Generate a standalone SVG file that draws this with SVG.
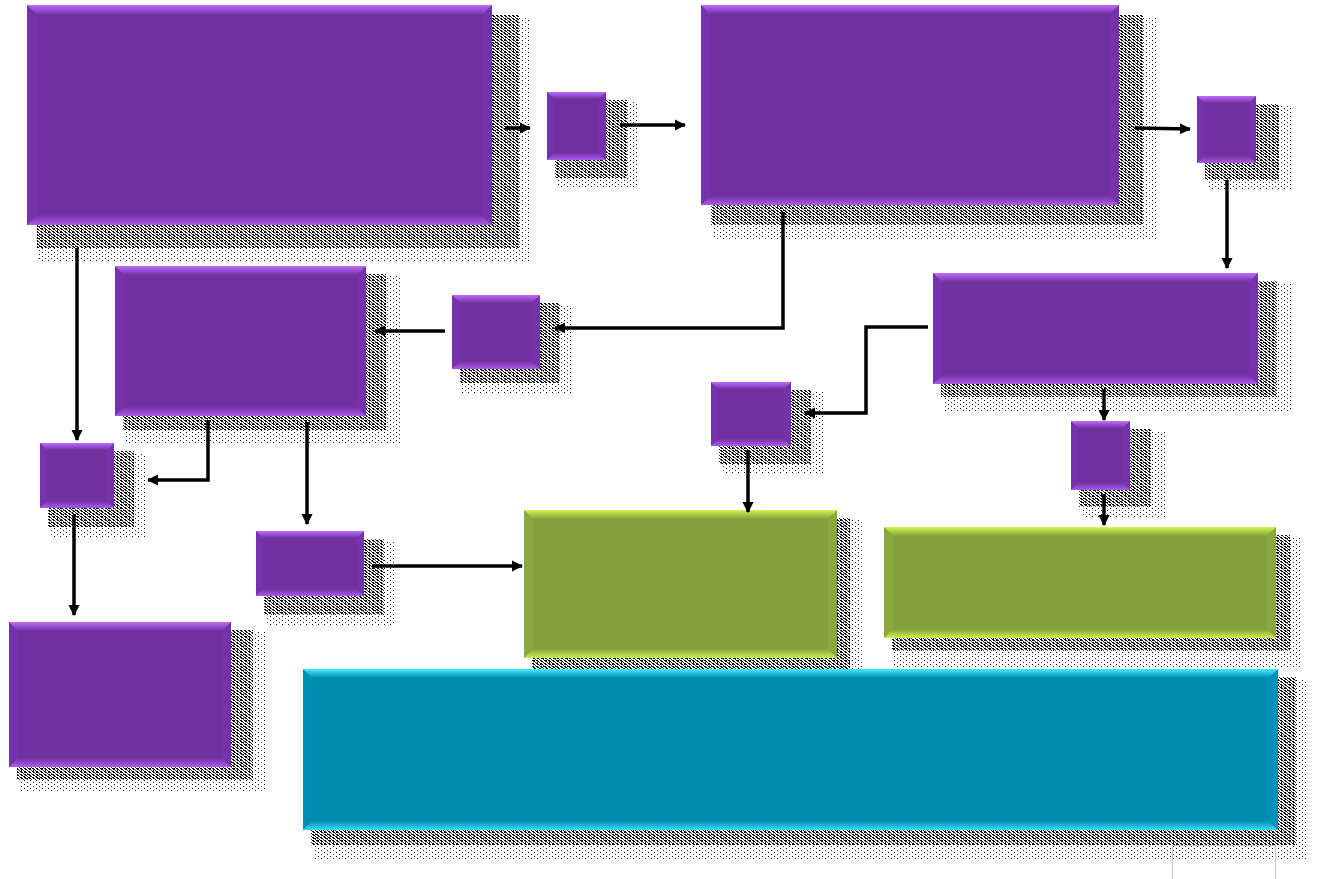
<svg xmlns="http://www.w3.org/2000/svg" width="1320" height="879" viewBox="0 0 1320 879">
<style>
.pm{fill:#7030A0}.ps{fill:#7632AA}
.gm{fill:#84A03C}.gs{fill:#8AA83E}
.tm{fill:#008BB0}.ts{fill:#0090B6}
.sd{fill:url(#dd)}.ss{fill:url(#ds)}
.c{fill:none;stroke:#000;stroke-width:3.5;marker-end:url(#ah)}
</style>
<defs>
<pattern id="dd" width="4" height="3" patternUnits="userSpaceOnUse"><rect width="2" height="1" fill="#000"/><rect x="1" y="1" width="2" height="1" fill="#111"/><rect x="3" y="2" width="1" height="1" fill="#333"/></pattern>
<pattern id="ds" width="6" height="4" patternUnits="userSpaceOnUse"><rect width="1" height="1" fill="#000"/><rect x="3" y="2" width="1" height="1" fill="#222"/></pattern>
<linearGradient id="pt" x1="0" y1="0" x2="0" y2="1"><stop offset="0" stop-color="#BC6CFA"/><stop offset="1" stop-color="#7432A6"/></linearGradient>
<linearGradient id="pb" x1="0" y1="0" x2="0" y2="1"><stop offset="0" stop-color="#7432A6"/><stop offset="1" stop-color="#AA5AEA"/></linearGradient>
<linearGradient id="gt" x1="0" y1="0" x2="0" y2="1"><stop offset="0" stop-color="#D4F454"/><stop offset="1" stop-color="#86A23D"/></linearGradient>
<linearGradient id="gb" x1="0" y1="0" x2="0" y2="1"><stop offset="0" stop-color="#86A23D"/><stop offset="1" stop-color="#CCEC52"/></linearGradient>
<linearGradient id="tt" x1="0" y1="0" x2="0" y2="1"><stop offset="0" stop-color="#44EEFF"/><stop offset="1" stop-color="#028EB2"/></linearGradient>
<linearGradient id="tb" x1="0" y1="0" x2="0" y2="1"><stop offset="0" stop-color="#028EB2"/><stop offset="1" stop-color="#3ADCFA"/></linearGradient>
<marker id="ah" viewBox="0 0 10 10" refX="9" refY="5" markerWidth="3.2" markerHeight="3.2" orient="auto" markerUnits="strokeWidth"><path d="M0,0 L10,5 L0,10 z" fill="#000"/></marker>
</defs>
<rect width="1320" height="879" fill="#fff"/>

<g id="n1"><rect class="ss" x="39" y="17" width="492" height="245"/><rect class="sd" x="37" y="15" width="482" height="233"/><rect class="ps" x="27" y="5" width="465" height="220"/><polygon points="27,5 492,5 482,15 37,15" fill="url(#pt)"/><polygon points="37,215 482,215 492,225 27,225" fill="url(#pb)"/><rect class="pm" x="37" y="15" width="445" height="200"/></g>
<g id="n2"><rect class="ss" x="557" y="102" width="80" height="86"/><rect class="sd" x="555" y="100" width="72" height="78"/><rect class="ps" x="547" y="92" width="59" height="68"/><polygon points="547,92 606,92 599,99 554,99" fill="url(#pt)"/><polygon points="554,153 599,153 606,160 547,160" fill="url(#pb)"/><rect class="pm" x="554" y="99" width="45" height="54"/></g>
<g id="n3"><rect class="ss" x="713" y="17" width="444" height="222"/><rect class="sd" x="711" y="15" width="432" height="210"/><rect class="ps" x="701" y="5" width="418" height="200"/><polygon points="701,5 1119,5 1110,14 710,14" fill="url(#pt)"/><polygon points="710,196 1110,196 1119,205 701,205" fill="url(#pb)"/><rect class="pm" x="710" y="14" width="400" height="182"/></g>
<g id="n4"><rect class="ss" x="1207" y="106" width="84" height="84"/><rect class="sd" x="1205" y="104" width="74" height="76"/><rect class="ps" x="1197" y="96" width="59" height="67"/><polygon points="1197,96 1256,96 1249,103 1204,103" fill="url(#pt)"/><polygon points="1204,156 1249,156 1256,163 1197,163" fill="url(#pb)"/><rect class="pm" x="1204" y="103" width="45" height="53"/></g>
<g id="n5"><rect class="ss" x="943" y="283" width="350" height="128"/><rect class="sd" x="941" y="281" width="336" height="116"/><rect class="ps" x="933" y="273" width="325" height="111"/><polygon points="933,273 1258,273 1249,282 942,282" fill="url(#pt)"/><polygon points="942,375 1249,375 1258,384 933,384" fill="url(#pb)"/><rect class="pm" x="942" y="282" width="307" height="93"/></g>
<g id="n6"><rect class="ss" x="462" y="305" width="110" height="88"/><rect class="sd" x="460" y="303" width="100" height="80"/><rect class="ps" x="452" y="295" width="88" height="74"/><polygon points="452,295 540,295 532,303 460,303" fill="url(#pt)"/><polygon points="460,361 532,361 540,369 452,369" fill="url(#pb)"/><rect class="pm" x="460" y="303" width="72" height="58"/></g>
<g id="n7"><rect class="ss" x="125" y="276" width="275" height="168"/><rect class="sd" x="123" y="274" width="263" height="156"/><rect class="ps" x="115" y="266" width="251" height="150"/><polygon points="115,266 366,266 357,275 124,275" fill="url(#pt)"/><polygon points="124,407 357,407 366,416 115,416" fill="url(#pb)"/><rect class="pm" x="124" y="275" width="233" height="132"/></g>
<g id="n8"><rect class="ss" x="50" y="453" width="96" height="84"/><rect class="sd" x="48" y="451" width="86" height="76"/><rect class="ps" x="40" y="443" width="74" height="65"/><polygon points="40,443 114,443 107,450 47,450" fill="url(#pt)"/><polygon points="47,501 107,501 114,508 40,508" fill="url(#pb)"/><rect class="pm" x="47" y="450" width="60" height="51"/></g>
<g id="n9"><rect class="ss" x="266" y="541" width="128" height="84"/><rect class="sd" x="264" y="539" width="120" height="76"/><rect class="ps" x="256" y="531" width="108" height="65"/><polygon points="256,531 364,531 357,538 263,538" fill="url(#pt)"/><polygon points="263,589 357,589 364,596 256,596" fill="url(#pb)"/><rect class="pm" x="263" y="538" width="94" height="51"/></g>
<g id="n10"><rect class="ss" x="721" y="392" width="102" height="82"/><rect class="sd" x="719" y="390" width="92" height="74"/><rect class="ps" x="711" y="382" width="80" height="64"/><polygon points="711,382 791,382 784,389 718,389" fill="url(#pt)"/><polygon points="718,439 784,439 791,446 711,446" fill="url(#pb)"/><rect class="pm" x="718" y="389" width="66" height="50"/></g>
<g id="n11"><rect class="ss" x="1081" y="431" width="86" height="86"/><rect class="sd" x="1079" y="429" width="72" height="78"/><rect class="ps" x="1071" y="421" width="59" height="69"/><polygon points="1071,421 1130,421 1123,428 1078,428" fill="url(#pt)"/><polygon points="1078,483 1123,483 1130,490 1071,490" fill="url(#pb)"/><rect class="pm" x="1078" y="428" width="45" height="55"/></g>
<g id="n12"><rect class="ss" x="534" y="520" width="330" height="160"/><rect class="sd" x="532" y="518" width="318" height="152"/><rect class="gs" x="524" y="510" width="313" height="148"/><polygon points="524,510 837,510 828,519 533,519" fill="url(#gt)"/><polygon points="533,649 828,649 837,658 524,658" fill="url(#gb)"/><rect class="gm" x="533" y="519" width="295" height="130"/></g>
<g id="n13"><rect class="ss" x="894" y="537" width="406" height="130"/><rect class="sd" x="892" y="535" width="398" height="116"/><rect class="gs" x="884" y="527" width="392" height="111"/><polygon points="884,527 1276,527 1267,536 893,536" fill="url(#gt)"/><polygon points="893,629 1267,629 1276,638 884,638" fill="url(#gb)"/><rect class="gm" x="893" y="536" width="374" height="93"/></g>
<g id="n14"><rect class="ss" x="19" y="632" width="248" height="160"/><rect class="sd" x="17" y="630" width="236" height="150"/><rect class="ps" x="9" y="622" width="222" height="145"/><polygon points="9,622 231,622 222,631 18,631" fill="url(#pt)"/><polygon points="18,758 222,758 231,767 9,767" fill="url(#pb)"/><rect class="pm" x="18" y="631" width="204" height="127"/></g>
<g id="n15"><rect class="ss" x="313" y="679" width="993" height="180"/><rect class="sd" x="311" y="677" width="985" height="168"/><rect class="ts" x="303" y="669" width="975" height="161"/><polygon points="303,669 1278,669 1269,678 312,678" fill="url(#tt)"/><polygon points="312,821 1269,821 1278,830 303,830" fill="url(#tb)"/><rect class="tm" x="312" y="678" width="957" height="143"/></g>

<g id="frame"><rect x="1172.5" y="845.5" width="103" height="40" fill="none" stroke="#c8c8c8" stroke-width="1"/></g>

<g id="connectors">
<path class="c" d="M505,128 L530,128"/>
<path class="c" d="M620,125 L685,125"/>
<path class="c" d="M1135,128 L1190,129"/>
<path class="c" d="M1227,180 L1227,268"/>
<path class="c" d="M783,212 L783,328 L555,328"/>
<path class="c" d="M445,331 L375,331"/>
<path class="c" d="M928,327 L866,327 L866,413 L805,413"/>
<path class="c" d="M1104,389 L1104,420"/>
<path class="c" d="M1104,494 L1104,525"/>
<path class="c" d="M748,450 L748,512"/>
<path class="c" d="M77,248 L77,440"/>
<path class="c" d="M208,420 L208,480 L148,480"/>
<path class="c" d="M307,422 L307,524"/>
<path class="c" d="M74,515 L74,615"/>
<path class="c" d="M372,566 L522,566"/>
</g>
</svg>
